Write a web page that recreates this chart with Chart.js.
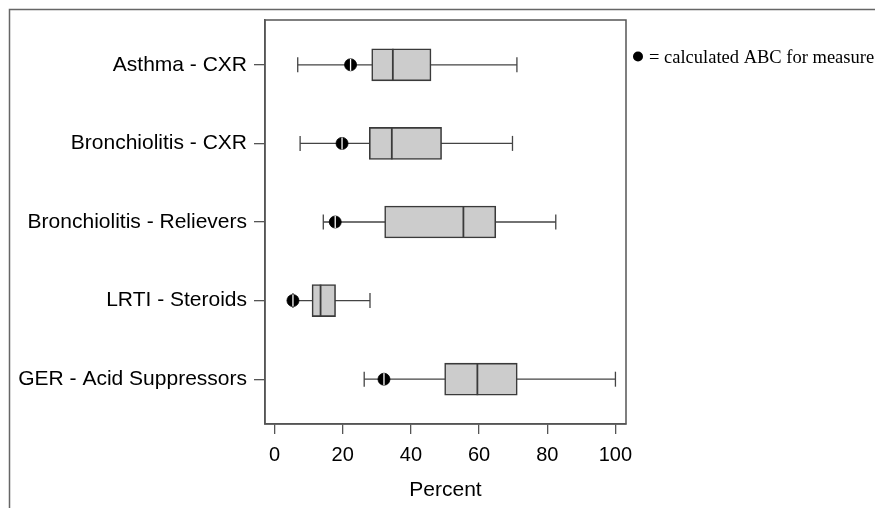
<!DOCTYPE html>
<html>
<head>
<meta charset="utf-8">
<script src="https://cdn.jsdelivr.net/npm/chart.js@4.4.0/dist/chart.umd.min.js"></script>
<style>
  html, body { margin: 0; padding: 0; background: #fff; }
  #wrap { width: 875px; height: 508px; position: relative; }
</style>
</head>
<body>
<div id="wrap"><canvas id="c" width="875" height="508"></canvas></div>
<script>
// ---- data ----
const categories = ['Asthma - CXR', 'Bronchiolitis - CXR', 'Bronchiolitis - Relievers', 'LRTI - Steroids', 'GER - Acid Suppressors'];
const whiskerLow  = [6.8, 7.5, 14.3, 5.4, 26.3];
const q1          = [28.5, 27.8, 32.3, 11.0, 49.9];
const median      = [34.7, 34.4, 55.4, 13.5, 59.5];
const q3          = [45.9, 49.0, 64.9, 17.9, 71.2];
const whiskerHigh = [71.1, 69.8, 82.5, 28.0, 100.0];
const abcValue    = [22.3, 19.8, 17.8, 5.4, 32.1];
const xTicks      = [0, 20, 40, 60, 80, 100];
const xTitle = 'Percent';
const legendText = '= calculated ABC for measure';

const pos = categories.map((_, i) => i + 1);

const whiskerLines = pos.flatMap((p, i) => [
  { x: whiskerLow[i], y: p }, { x: whiskerHigh[i], y: p }, { x: null, y: p }
]);
const caps = pos.flatMap((p, i) => [{ x: whiskerLow[i], y: p }, { x: whiskerHigh[i], y: p }]);
const boxes = pos.map((p, i) => ({ y: p, x: [q1[i], q3[i]] }));
const medians = pos.map((p, i) => ({ x: median[i], y: p }));
const abcPts = pos.map((p, i) => ({ x: abcValue[i], y: p }));

const sans = "'Liberation Sans', Arial, sans-serif";
const serif = "'Liberation Serif', 'Times New Roman', serif";
const axisColor = '#555';

const framePlugin = {
  id: 'frame',
  beforeDraw(chart) {
    const ctx = chart.ctx;
    ctx.save();
    ctx.strokeStyle = '#666';
    ctx.lineWidth = 1.5;
    ctx.beginPath();
    ctx.moveTo(9.5, 508);
    ctx.lineTo(9.5, 9.5);
    ctx.lineTo(875, 9.5);
    ctx.stroke();
    ctx.restore();
  },
  afterDraw(chart) {
    const { ctx, chartArea: a } = chart;
    ctx.save();
    ctx.strokeStyle = axisColor;
    ctx.lineWidth = 1.5;
    ctx.strokeRect(a.left, a.top, a.right - a.left, a.bottom - a.top);
    // legend
    ctx.fillStyle = '#000';
    ctx.beginPath();
    ctx.arc(638, 56.5, 5, 0, Math.PI * 2);
    ctx.fill();
    ctx.font = '18.5px ' + serif;
    ctx.textBaseline = 'middle';
    ctx.textAlign = 'left';
    ctx.fillText(legendText, 649, 58);
    ctx.restore();
  }
};

new Chart(document.getElementById('c'), {
  type: 'scatter',
  data: {
    datasets: [
      {
        type: 'line', data: whiskerLines, borderColor: '#444', borderWidth: 1.3,
        pointRadius: 0, spanGaps: false, order: 5, fill: false
      },
      {
        type: 'scatter', data: caps, pointStyle: 'line', rotation: 90, pointRadius: 7.5,
        borderColor: '#444', borderWidth: 1.3, order: 4
      },
      {
        type: 'bar', indexAxis: 'y', data: boxes, backgroundColor: '#cccccc',
        borderColor: '#3a3a3a', borderWidth: 1.6, borderSkipped: false, barThickness: 32,
        grouped: false, order: 3
      },
      {
        type: 'scatter', data: medians, pointStyle: 'line', rotation: 90, pointRadius: 16,
        borderColor: '#3a3a3a', borderWidth: 1.8, order: 2
      },
      {
        type: 'scatter', data: abcPts, pointStyle: 'circle', pointRadius: 6,
        backgroundColor: '#000', borderColor: '#000', borderWidth: 0.8, order: 1
      },
      {
        type: 'scatter', data: abcPts, pointStyle: 'line', rotation: 90, pointRadius: 6,
        borderColor: '#fff', borderWidth: 1.3, order: 0
      }
    ]
  },
  options: {
    responsive: false,
    animation: false,
    layout: { padding: { left: 0, right: 249, top: 20, bottom: 0 } },
    plugins: { legend: { display: false }, tooltip: { enabled: false } },
    scales: {
      x: {
        type: 'linear', min: -2.8, max: 103.1, offset: false,
        afterBuildTicks: (s) => { s.ticks = xTicks.map(v => ({ value: v })); },
        afterFit: (s) => { s.height = 84; },
        grid: { drawOnChartArea: false, drawTicks: true, tickLength: 10, color: axisColor, lineWidth: 1.3, offset: false },
        border: { display: true, color: axisColor, width: 1.5 },
        ticks: { color: '#000', font: { family: sans, size: 20 }, padding: 9, maxRotation: 0 },
        title: { display: true, text: xTitle, color: '#000', font: { family: sans, size: 21 }, padding: { top: 0, bottom: 5 } }
      },
      y: {
        type: 'linear', min: 0.43, max: 5.57, reverse: true, offset: false,
        afterBuildTicks: (s) => { s.ticks = pos.map(v => ({ value: v })); },
        afterFit: (s) => { s.width = 265; },
        grid: { drawOnChartArea: false, drawTicks: true, tickLength: 11, color: axisColor, lineWidth: 1.3, offset: false },
        border: { display: true, color: axisColor, width: 1.5 },
        ticks: {
          color: '#000', font: { family: sans, size: 21 }, padding: 7,
          callback: (v) => categories[Math.round(v) - 1] || ''
        }
      }
    }
  },
  plugins: [framePlugin]
});
</script>
</body>
</html>
